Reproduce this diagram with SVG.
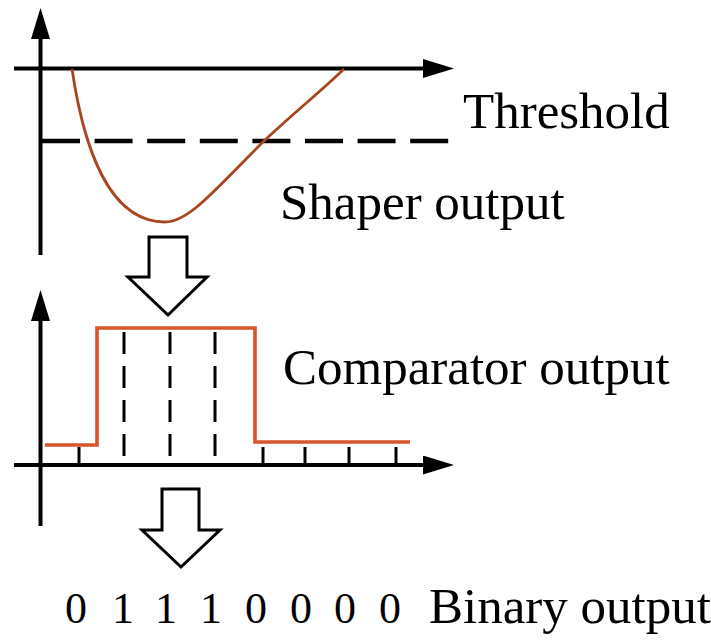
<svg xmlns="http://www.w3.org/2000/svg" width="711" height="641" viewBox="0 0 711 641">
<defs>
<style>
.axis{stroke:#000;stroke-width:4;fill:none}
.thr{stroke:#000;stroke-width:4.5;fill:none;stroke-dasharray:38 14.6}
.vd{stroke:#000;stroke-width:3;fill:none;stroke-dasharray:22 12}
.tick{stroke:#000;stroke-width:3;fill:none}
.curve{stroke:#a8461f;stroke-width:2.8;fill:none}
.comp{stroke:#d9532b;stroke-width:3.6;fill:none;stroke-linejoin:miter}
.hollow{fill:#fff;stroke:#000;stroke-width:3;stroke-linejoin:miter}
.lbl{font-family:"Liberation Serif","Times New Roman",serif;font-size:51px;fill:#000}
.dig{font-family:"Liberation Serif","Times New Roman",serif;font-size:44px;fill:#000;text-anchor:middle}
</style>
<marker id="ah" markerUnits="userSpaceOnUse" viewBox="0 0 31 19" refX="0" refY="9.5" markerWidth="31" markerHeight="19" orient="auto">
<path d="M0,0 L31,9.5 L0,19 z" fill="#000"/>
</marker>
</defs>
<g id="connectors">
<line class="axis" x1="40.5" y1="255" x2="40.5" y2="39" marker-end="url(#ah)"/>
<line class="axis" x1="14" y1="68.5" x2="423" y2="68.5" marker-end="url(#ah)"/>
<line class="axis" x1="40.5" y1="526" x2="40.5" y2="321" marker-end="url(#ah)"/>
<line class="axis" x1="14" y1="465" x2="423" y2="465" marker-end="url(#ah)"/>
<polygon id="arrow1" class="hollow" points="149,237 187,237 187,277 207,277 168,315 128,277 149,277"/>
<polygon id="arrow2" class="hollow" points="162,489 199,489 199,530 220,530 181,567 142,530 162,530"/>
</g>
<g id="shaper">
<line class="thr" x1="42" y1="141" x2="450" y2="141"/>
<path class="curve" d="M72,69 C84,150 110,222 165,222 C190,222 218,186 265,140 C295,112 320,92 344,69"/>
</g>
<g id="comparator">
<g class="tick">
<line x1="79" y1="447" x2="79" y2="465"/>
<line x1="263" y1="447" x2="263" y2="465"/>
<line x1="305" y1="447" x2="305" y2="465"/>
<line x1="349" y1="447" x2="349" y2="465"/>
<line x1="396" y1="447" x2="396" y2="465"/>
</g>
<g class="vd">
<line x1="124" y1="332" x2="124" y2="465"/>
<line x1="170" y1="332" x2="170" y2="465"/>
<line x1="215" y1="332" x2="215" y2="465"/>
</g>
<path class="comp" d="M45,445 L97,445 L97,328 L255,328 L255,442 L410,442"/>
</g>
<g id="labels">
<text class="lbl" x="463" y="128">Threshold</text>
<text class="lbl" x="280" y="219">Shaper output</text>
<text class="lbl" x="283" y="384">Comparator output</text>
<text class="lbl" x="429" y="623">Binary output</text>
</g>
<g id="binary">
<text class="dig" x="76" y="623">0</text>
<text class="dig" x="123" y="623">1</text>
<text class="dig" x="166" y="623">1</text>
<text class="dig" x="211" y="623">1</text>
<text class="dig" x="256" y="623">0</text>
<text class="dig" x="301" y="623">0</text>
<text class="dig" x="345" y="623">0</text>
<text class="dig" x="390" y="623">0</text>
</g>
</svg>
